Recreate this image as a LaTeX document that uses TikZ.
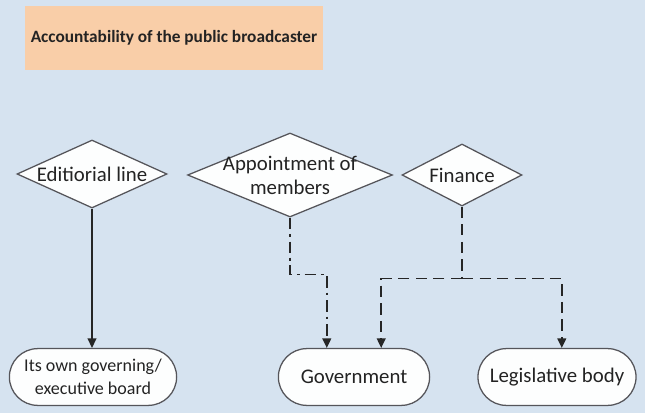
\documentclass[tikz,border=0pt]{standalone}
\usepackage{fontspec}
\setmainfont{Carlito}
\usetikzlibrary{shapes.geometric,shapes.misc,arrows.meta}
\definecolor{bgblue}{RGB}{214,227,240}
\definecolor{peach}{RGB}{249,206,168}
\definecolor{edgegray}{RGB}{85,85,90}
\definecolor{txtgray}{RGB}{35,35,35}
\begin{document}
\begin{tikzpicture}
    	[x=0.025cm, y=-0.025cm,
    	every node/.style={text=txtgray, font=\fontsize{14.8}{17}\selectfont},
    	choice/.style={diamond, draw=edgegray, fill=white!96!bgblue, line width=0.9pt, inner sep=-30pt, align=center},
    	body/.style={rounded rectangle, draw=edgegray, fill=white!96!bgblue, line width=0.9pt, minimum height=1.42cm, align=center, inner sep=1pt},
    	link/.style={draw=black!85, line width=1.1pt, -{Triangle[length=2.4mm, width=2.2mm]}},
    	dashlink/.style={link, dash pattern=on 8pt off 4.5pt},
    	dotlink/.style={link, dash pattern=on 8pt off 3.5pt on 2pt off 3.5pt}]
    	
    	\fill[bgblue] (0,0) rectangle (645,413);
    	\useasboundingbox (0,0) rectangle (645,413);
    	
    	\node[rectangle, fill=peach, minimum width=7.45cm, minimum height=1.62cm, font=\fontsize{12.3}{14}\selectfont\bfseries] (title) at (174,38) {Accountability of the public broadcaster};
    	
    	\node[choice, minimum width=3.75cm, minimum height=1.7cm] (edit) at (92,174) {Editiorial line};
    	\node[choice, minimum width=5.12cm, minimum height=2.1cm] (appt) at (290,175) {Appointment of\\members};
    	\node[choice, minimum width=3cm, minimum height=1.55cm] (fin) at (462,175) {Finance};
    	
    	\node[body, minimum width=4.25cm, font=\fontsize{12.8}{16.5}\selectfont] (board) at (93,377) {Its own governing/\\executive board};
    	\node[body, minimum width=3.85cm] (gov) at (354,377) {Government};
    	\node[body, minimum width=4.02cm] (leg) at (557,377) {Legislative body};
    	
    	\draw[link] (edit.south) -- (edit.south |- board.north);
    	\draw[dotlink] (appt.south) -- ++(0,57) -| ([xshift=-0.68cm]gov.north);
    	\draw[dashlink, -] (fin.south) -- ++(0,72) coordinate (split);
    	\draw[dashlink] (split) -| ([xshift=0.68cm]gov.north);
    	\draw[dashlink] (split) -| ([xshift=0.12cm]leg.north);
    \end{tikzpicture}
\end{document}
